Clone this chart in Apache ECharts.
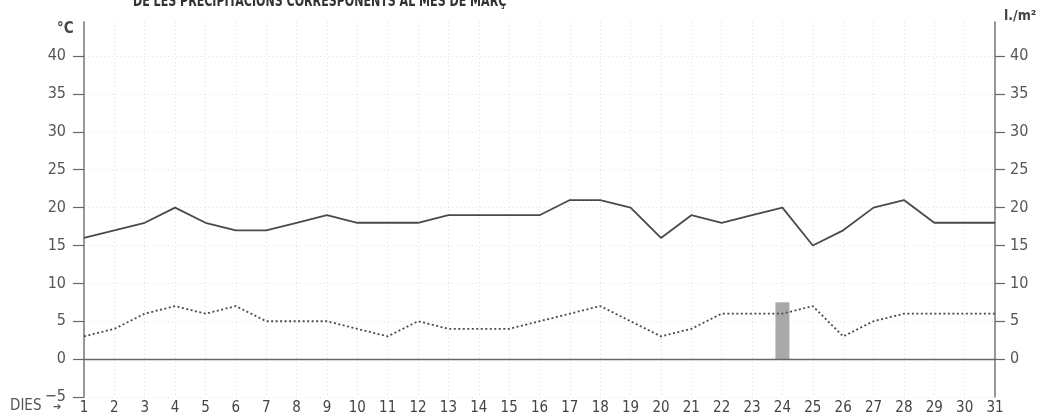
<!DOCTYPE html>
<html>
<head>
<meta charset="utf-8">
<script src="https://cdn.jsdelivr.net/npm/echarts@6/dist/echarts.min.js"></script>
<style>
html,body{margin:0;padding:0;background:#fff;}
#c{width:1037px;height:417px;}
</style>
</head>
<body>
<div id="c"></div>
<script>
const days = ['1','2','3','4','5','6','7','8','9','10','11','12','13','14','15','16','17','18','19','20','21','22','23','24','25','26','27','28','29','30','31'];
const tempMax = [16,17,18,20,18,17,17,18,19,18,18,18,19,19,19,19,21,21,20,16,19,18,19,20,15,17,20,21,18,18,18];
const tempMin = [3,4,6,7,6,7,5,5,5,4,3,5,4,4,4,5,6,7,5,3,4,6,6,6,7,3,5,6,6,6,6];
const precip = [null,null,null,null,null,null,null,null,null,null,null,null,null,null,null,null,null,null,null,null,null,null,null,7.5,null,null,null,null,null,null,null];
const leftTicks = [-5,0,5,10,15,20,25,30,35,40];
const rightTicks = [0,5,10,15,20,25,30,35,40];
const titleText = 'DE LES PRECIPITACIONS CORRESPONENTS AL MES DE MARÇ';

const FONT = "'Liberation Sans Narrow','DejaVu Sans Condensed','Liberation Sans',sans-serif";
const chart = echarts.init(document.getElementById('c'), null, {renderer:'canvas'});
const fmt = v => (v % 5 === 0 ? (v < 0 ? '\u2212' + Math.abs(v) : String(v)) : '');
chart.setOption({
  animation:false,
  backgroundColor:'#fff',
  grid:{left:84,right:42,top:22,bottom:20,containLabel:false},
  graphic:[
    {type:'text',x:133,y:-5,scaleX:0.82,style:{text:titleText,font:"bold 15px "+FONT,fill:'#333'}},
    {type:'text',left:10,top:399,style:{text:'DIES',font:"15px "+FONT,fill:'#555'}},
    {type:'text',left:53,top:402,style:{text:'\u2794',font:"bold 10px 'DejaVu Sans'",fill:'#555'}},
    {type:'text',left:57,top:22,style:{text:'°C',font:"bold 15px "+FONT,fill:'#444'}},
    {type:'text',left:1004,top:9,style:{text:'l./m²',font:"bold 14px "+FONT,fill:'#444'}}
  ],
  xAxis:{
    type:'category',data:days,boundaryGap:false,
    axisLine:{show:false},axisTick:{show:false},
    axisLabel:{color:'#444',fontFamily:FONT,fontSize:15,margin:4,interval:0},
    splitLine:{show:true,lineStyle:{color:'#dcdcdc',type:[1,3],width:1}}
  },
  yAxis:[
    {type:'value',min:-5,max:44.5,interval:5,position:'left',
     axisLine:{show:true,lineStyle:{color:'#777',width:1.5}},
     axisTick:{show:true,inside:false,length:11,lineStyle:{color:'#666',width:1.2},customValues:leftTicks},
     axisLabel:{color:'#555',fontFamily:FONT,fontSize:16,margin:18,formatter:fmt,customValues:leftTicks},
     splitLine:{show:true,lineStyle:{color:'#e2e2e2',type:[1,3]}}
    },
    {type:'value',min:-5,max:44.5,interval:5,position:'right',
     axisLine:{show:true,lineStyle:{color:'#777',width:1.5}},
     axisTick:{show:true,inside:false,length:10,lineStyle:{color:'#666',width:1.2},customValues:rightTicks},
     axisLabel:{color:'#555',fontFamily:FONT,fontSize:16,margin:15,formatter:fmt,customValues:rightTicks},
     splitLine:{show:false}
    }
  ],
  series:[
    {type:'bar',yAxisIndex:1,data:precip,barWidth:14,itemStyle:{color:'#a9a9a9'},z:2},
    {type:'line',data:tempMax,symbol:'none',lineStyle:{color:'#4a4a4a',width:1.8},z:3,
     markLine:{silent:true,symbol:['none','none'],label:{show:false},
       lineStyle:{color:'#666',width:1.4,type:'solid'},data:[{yAxis:0}]}},
    {type:'line',data:tempMin,symbol:'none',lineStyle:{color:'#4a4a4a',width:1.8,type:[2,2.5]},z:3}
  ]
});
</script>
</body>
</html>
